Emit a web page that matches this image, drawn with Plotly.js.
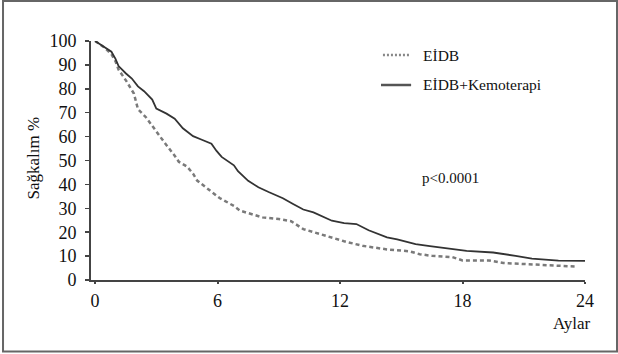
<!DOCTYPE html>
<html>
<head>
<meta charset="utf-8">
<script src="https://cdn.plot.ly/plotly-3.0.1.min.js"></script>
<style>
html,body{margin:0;padding:0;background:#fff;}
#chart{width:618px;height:354px;}
</style>
</head>
<body>
<div id="chart"></div>
<script>
// Months
const monthsEIDB = [0,0.5,0.8,1.0,1.15,1.55,1.9,2.1,2.5,2.75,3.2,3.4,3.9,4.1,4.5,4.8,5.0,5.5,5.95,6.1,6.8,7.1,7.5,8.2,9.0,9.6,10.2,11.0,11.8,12.2,13.1,14.3,15.4,15.9,16.5,17.5,18.0,19.3,20.0,21.3,22.3,23.6];
const survEIDB = [100,97,94.5,91.5,88,83,78,71.5,68,65,59.8,57.5,52,49.5,47.5,44.5,41.6,38.1,35,34.3,31,29,28,26.2,25.5,24.6,21.3,19.2,17.1,16.2,14.3,12.8,12.0,10.8,10.1,9.6,8.2,8.2,7.1,6.5,5.9,5.6];

const monthsKemo = [0,0.4,0.8,1.0,1.15,1.5,1.8,2.1,2.4,2.8,3.0,3.5,3.9,4.3,4.8,5.2,5.7,5.95,6.2,6.8,7.0,7.5,8.0,8.5,9.2,9.7,10.2,10.7,11.2,11.6,12.2,12.8,13.4,13.9,14.3,14.8,15.7,16.4,16.9,17.5,18.2,19.5,20.0,20.6,21.4,22.1,22.7,24.0];
const survKemo = [100,97.6,95.5,92.5,89.5,86.5,84.3,81,79,75.5,71.7,69.6,67.5,63.5,60.2,58.8,57,54,51.5,48,45.5,41.5,38.8,36.8,34.2,31.8,29.5,28.3,26.5,24.8,23.8,23.4,20.8,19.2,17.8,17,15,14.2,13.6,13,12.2,11.5,11,10.1,8.9,8.6,8.1,8.0];

const xTicks = [0,6,12,18,24];
const yTicks = [0,10,20,30,40,50,60,70,80,90,100];
const seriesNames = ["EİDB","EİDB+Kemoterapi"];
const yTitle = "Sağkalım %";
const xTitle = "Aylar";
const pText = "p<0.0001";

const serif = "Liberation Serif";

const traces = [
  {x: monthsEIDB, y: survEIDB, mode: "lines", name: seriesNames[0],
   line: {color: "#7a7a7a", width: 2.5, dash: "4px,3px", shape: "linear"}, showlegend: false},
  {x: monthsKemo, y: survKemo, mode: "lines", name: seriesNames[1],
   line: {color: "#333333", width: 1.8, shape: "linear"}, showlegend: false}
];

const layout = {
  width: 618, height: 354,
  margin: {l: 91, r: 33, t: 41, b: 74},
  paper_bgcolor: "#fff", plot_bgcolor: "#fff",
  showlegend: false,
  font: {family: serif, color: "#111"},
  xaxis: {
    range: [-0.2, 24], tickvals: xTicks, ticktext: xTicks.map(String),
    showgrid: false, zeroline: false, showline: true, linecolor: "#444", linewidth: 2,
    ticks: "outside", ticklen: 2, tickwidth: 2, tickcolor: "#444",
    ticklabelstandoff: 1,
    tickfont: {family: serif, size: 18, color: "#111"}, fixedrange: true
  },
  yaxis: {
    range: [0, 100], tickvals: yTicks, ticktext: yTicks.map(String),
    showgrid: false, zeroline: false, showline: true, linecolor: "#444", linewidth: 2,
    ticks: "outside", ticklen: 4, tickwidth: 1.5, tickcolor: "#444",
    ticklabelstandoff: 5,
    tickfont: {family: serif, size: 18, color: "#111"}, fixedrange: true
  },
  shapes: [
    {type: "rect", xref: "paper", yref: "paper", x0: -0.1781, x1: 1.0648, y0: -0.2992, y1: 1.1674,
     line: {color: "#666", width: 2}, fillcolor: "rgba(0,0,0,0)"},
    {type: "line", xref: "paper", yref: "paper", x0: 0.591, x1: 0.6457, y0: 0.9414, y1: 0.9414,
     line: {color: "#888", width: 2.5, dash: "2px,2px"}},
    {type: "line", xref: "paper", yref: "paper", x0: 0.587, x1: 0.648, y0: 0.8159, y1: 0.8159,
     line: {color: "#555", width: 2.5}}
  ],
  annotations: [
    {text: seriesNames[0], xref: "paper", yref: "paper", x: 0.668, y: 0.9414, xanchor: "left", yanchor: "middle",
     showarrow: false, font: {family: serif, size: 15.5, color: "#111"}},
    {text: seriesNames[1], xref: "paper", yref: "paper", x: 0.668, y: 0.8159, xanchor: "left", yanchor: "middle",
     showarrow: false, font: {family: serif, size: 15.5, color: "#111"}},
    {text: pText, xref: "paper", yref: "paper", x: 0.666, y: 0.4268, xanchor: "left", yanchor: "middle",
     showarrow: false, font: {family: serif, size: 15, color: "#111"}},
    {text: xTitle, xref: "paper", yref: "paper", x: 0.9717, y: -0.18, xanchor: "center", yanchor: "middle",
     showarrow: false, font: {family: serif, size: 17, color: "#111"}},
    {text: yTitle, xref: "paper", yref: "paper", x: -0.1144, y: 0.5105, xanchor: "center", yanchor: "middle",
     textangle: -90, showarrow: false, font: {family: serif, size: 17, color: "#111"}}
  ]
};

Plotly.newPlot("chart", traces, layout, {displayModeBar: false, staticPlot: true});
</script>
</body>
</html>
